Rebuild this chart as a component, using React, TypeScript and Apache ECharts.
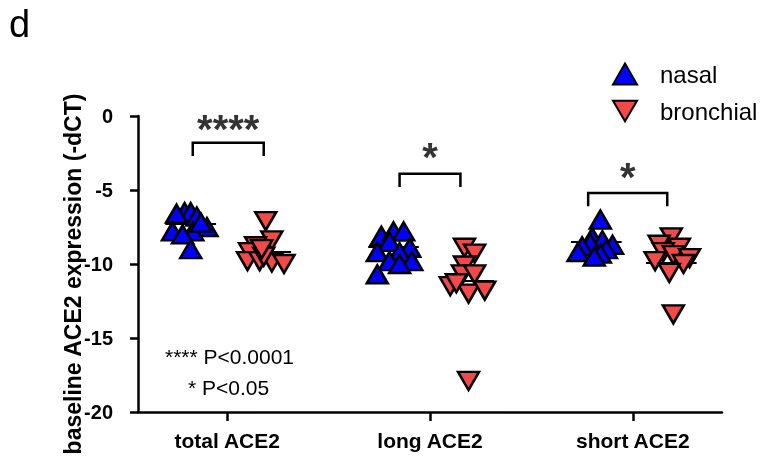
import React, { useEffect, useRef } from "react";
import * as echarts from "echarts";

const categories = ["total ACE2", "long ACE2", "short ACE2"];
const yTicks = [0, -5, -10, -15, -20];

// nasal values and horizontal offsets (category units) per group
const nasalTotal = [-6.5, -6.5, -6.6, -6.8, -7.5, -7.8, -7.8, -8.0, -7.2, -9.0];
const nasalTotalX = [-0.21, -0.18, -0.25, -0.15, -0.1, -0.27, -0.17, -0.22, -0.13, -0.18];
const nasalLong = [-8.1, -7.8, -7.8, -8.5, -8.9, -9.2, -9.2, -9.8, -9.8, -10.0, -10.7];
const nasalLongX = [-0.24, -0.18, -0.13, -0.2, -0.1, -0.26, -0.15, -0.09, -0.2, -0.15, -0.26];
const nasalShort = [-7.0, -8.2, -8.4, -8.6, -8.7, -8.8, -9.0, -9.2, -9.3, -9.5];
const nasalShortX = [-0.16, -0.2, -0.15, -0.21, -0.1, -0.25, -0.13, -0.27, -0.16, -0.19];

// bronchial values and offsets
const bronchTotal = [-7.1, -8.4, -8.8, -9.2, -9.8, -9.8, -9.9, -10.0, -9.5, -9.0];
const bronchTotalX = [0.19, 0.22, 0.14, 0.11, 0.1, 0.16, 0.22, 0.28, 0.18, 0.17];
const bronchLong = [-8.9, -9.3, -10.1, -10.7, -10.7, -11.5, -12.0, -11.8, -11.3, -17.9];
const bronchLongX = [0.17, 0.22, 0.17, 0.16, 0.22, 0.1, 0.19, 0.27, 0.13, 0.19];
const bronchShort = [-8.2, -8.7, -8.9, -9.2, -9.4, -9.6, -9.8, -10.0, -10.6, -13.4];
const bronchShortX = [0.19, 0.13, 0.23, 0.15, 0.2, 0.28, 0.11, 0.25, 0.18, 0.2];

// median lines
const nasalMedians = [-7.3, -8.85, -8.5];
const bronchMedians = [-9.2, -11.1, -9.9];
const nasalCenter = -0.18;
const bronchCenter = 0.19;

// significance brackets
const bracketLeft = [-0.17, -0.15, -0.22];
const bracketRight = [0.18, 0.15, 0.17];
const bracketTop = [-1.8, -3.9, -5.2];
const bracketLeg = [-2.7, -4.8, -6.1];
const starLabels = ["****", "*", "*"];
const starY = [-0.85, -2.8, -4.1];

const FONT = 'Arial, "Liberation Sans", Helvetica, sans-serif';
const BLUE = "#0000FF";
const RED = "#F24A4A";
const INV_TRI = "path://M0,0 L20,0 L10,17 Z";

function pts(vals: number[], offs: number[], cat: number) {
  return vals.map((v, i) => [cat + offs[i], v]);
}

export default function App() {
  const ref = useRef<HTMLDivElement>(null);
  useEffect(() => {
    if (!ref.current) return;
    const chart = echarts.init(ref.current, null, { renderer: "svg" });

    const nasalData = [
      ...pts(nasalTotal, nasalTotalX, 0),
      ...pts(nasalLong, nasalLongX, 1),
      ...pts(nasalShort, nasalShortX, 2),
    ];
    const bronchData = [
      ...pts(bronchTotal, bronchTotalX, 0),
      ...pts(bronchLong, bronchLongX, 1),
      ...pts(bronchShort, bronchShortX, 2),
    ];

    const half = 0.125;
    const medianLines = [
      ...nasalMedians.map((m, i) => ({ coords: [[i + nasalCenter - half, m], [i + nasalCenter + half, m]] })),
      ...bronchMedians.map((m, i) => ({ coords: [[i + bronchCenter - half, m], [i + bronchCenter + half, m]] })),
    ];
    const brackets = categories.map((_, i) => ({
      coords: [
        [i + bracketLeft[i], bracketLeg[i]],
        [i + bracketLeft[i], bracketTop[i]],
        [i + bracketRight[i], bracketTop[i]],
        [i + bracketRight[i], bracketLeg[i]],
      ],
    }));
    const stars = categories.map((_, i) => ({
      value: [i + (bracketLeft[i] + bracketRight[i]) / 2, starY[i]],
      label: { formatter: starLabels[i] },
    }));

    chart.setOption({
      animation: false,
      textStyle: { fontFamily: FONT },
      grid: { left: 138, right: 41, top: 116, bottom: 50 },
      legend: {
        left: 607,
        top: 57,
        orient: "vertical",
        itemWidth: 24,
        itemHeight: 21,
        itemGap: 13,
        data: ["nasal", "bronchial"],
        textStyle: { fontSize: 24, color: "#000", fontFamily: FONT, padding: [0, 0, 0, 18] },
      },
      xAxis: {
        type: "value",
        min: -0.44,
        max: 2.44,
        splitLine: { show: false },
        axisLine: { onZero: false, lineStyle: { color: "#000", width: 2.5 } },
        axisTick: { customValues: [0, 1, 2], length: 9, lineStyle: { color: "#000", width: 2.5 } },
        axisLabel: {
          customValues: [0, 1, 2],
          formatter: (v: number) => categories[Math.round(v)] ?? "",
          color: "#000",
          fontSize: 21,
          fontWeight: "bold",
          margin: 18,
          fontFamily: FONT,
        },
      },
      yAxis: {
        type: "value",
        min: -20,
        max: 0,
        interval: 5,
        splitLine: { show: false },
        axisLine: { show: true, onZero: false, lineStyle: { color: "#000", width: 2.5 } },
        axisTick: { show: true, length: 8, lineStyle: { color: "#000", width: 2.5 } },
        axisLabel: {
          color: "#000",
          fontSize: 20,
          fontWeight: "bold",
          margin: 25,
          fontFamily: FONT,
          formatter: (v: number) => (yTicks.includes(v) ? String(v) : ""),
        },
      },
      series: [
        {
          name: "medians",
          type: "lines",
          coordinateSystem: "cartesian2d",
          silent: true,
          z: 1,
          lineStyle: { color: "#000", width: 2, opacity: 1 },
          data: medianLines,
        },
        {
          name: "nasal",
          type: "scatter",
          symbol: "triangle",
          symbolSize: [21, 18],
          z: 3,
          itemStyle: { color: BLUE, borderColor: "#000", borderWidth: 2.5, opacity: 1 },
          data: nasalData,
        },
        {
          name: "bronchial",
          type: "scatter",
          symbol: INV_TRI,
          symbolSize: [21, 18],
          z: 3,
          itemStyle: { color: RED, borderColor: "#000", borderWidth: 2.5, opacity: 1 },
          data: bronchData,
        },
        {
          name: "brackets",
          type: "lines",
          coordinateSystem: "cartesian2d",
          polyline: true,
          silent: true,
          lineStyle: { color: "#000", width: 2.5, opacity: 1 },
          data: brackets,
        },
        {
          name: "stars",
          type: "scatter",
          symbolSize: 1,
          silent: true,
          itemStyle: { color: "rgba(0,0,0,0)" },
          label: {
            show: true,
            position: "inside",
            color: "#000",
            fontSize: 40,
            fontWeight: "bold",
            fontFamily: FONT,
          },
          data: stars,
        },
      ],
      graphic: [
        { type: "text", left: 9, top: 5, style: { text: "d", fontSize: 38, fill: "#000", fontFamily: FONT } },
        {
          type: "text",
          x: 73,
          y: 274,
          rotation: Math.PI / 2,
          style: {
            text: "baseline ACE2 expression (-dCT)",
            fontSize: 23,
            fontWeight: "bold",
            fill: "#000",
            fontFamily: FONT,
            align: "center",
            verticalAlign: "middle",
          },
        },
        { type: "text", left: 165, top: 346, style: { text: "**** P<0.0001", fontSize: 21, fill: "#000", fontFamily: FONT } },
        { type: "text", left: 188, top: 377, style: { text: "* P<0.05", fontSize: 21, fill: "#000", fontFamily: FONT } },
      ],
    });
    return () => chart.dispose();
  }, []);
  return <div ref={ref} style={{ position: "fixed", left: 0, top: 0, width: 763, height: 462 }} />;
}
